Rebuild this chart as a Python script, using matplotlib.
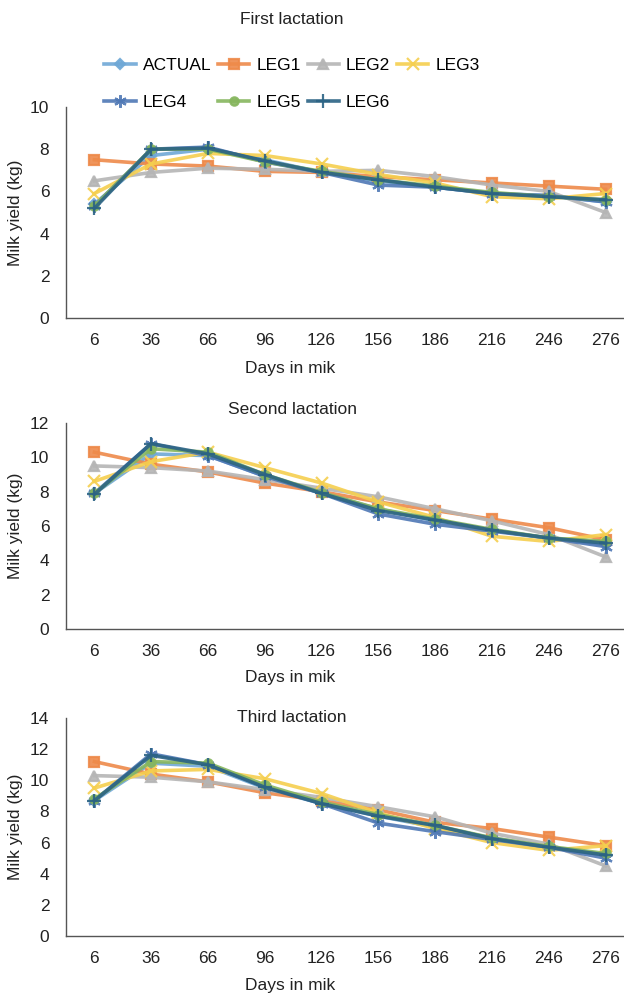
import matplotlib
matplotlib.use("Agg")
import matplotlib.pyplot as plt

plt.rcParams["font.family"] = ["Liberation Sans", "DejaVu Sans"]

days = ["6", "36", "66", "96", "126", "156", "186", "216", "246", "276"]
series_names = ["ACTUAL", "LEG1", "LEG2", "LEG3", "LEG4", "LEG5", "LEG6"]

# first lactation
first_actual = [5.4, 7.7, 8.0, 7.5, 6.9, 6.5, 6.2, 5.9, 5.8, 5.5]
first_leg1 = [7.5, 7.3, 7.2, 6.95, 6.9, 6.7, 6.55, 6.4, 6.25, 6.1]
first_leg2 = [6.5, 6.9, 7.1, 7.05, 6.95, 7.0, 6.7, 6.3, 6.0, 5.0]
first_leg3 = [5.9, 7.3, 7.8, 7.7, 7.3, 6.8, 6.4, 5.75, 5.65, 5.9]
first_leg4 = [5.3, 8.0, 8.1, 7.4, 6.9, 6.3, 6.2, 5.9, 5.8, 5.5]
first_leg5 = [5.3, 8.0, 8.0, 7.4, 6.95, 6.55, 6.25, 5.95, 5.75, 5.6]
first_leg6 = [5.2, 8.0, 8.05, 7.45, 6.9, 6.55, 6.2, 5.9, 5.75, 5.6]

# second lactation
second_actual = [7.9, 10.2, 10.1, 8.9, 7.9, 7.0, 6.3, 5.75, 5.3, 4.9]
second_leg1 = [10.3, 9.6, 9.15, 8.5, 8.0, 7.4, 6.9, 6.4, 5.9, 5.2]
second_leg2 = [9.5, 9.4, 9.2, 8.7, 8.2, 7.7, 7.0, 6.3, 5.5, 4.2]
second_leg3 = [8.6, 9.75, 10.3, 9.4, 8.5, 7.4, 6.5, 5.4, 5.1, 5.5]
second_leg4 = [7.9, 10.8, 10.1, 8.9, 7.9, 6.7, 6.1, 5.7, 5.3, 4.8]
second_leg5 = [7.9, 10.5, 10.3, 9.0, 7.95, 7.0, 6.4, 5.8, 5.3, 5.1]
second_leg6 = [7.85, 10.8, 10.2, 9.0, 7.9, 6.9, 6.35, 5.75, 5.3, 5.0]

# third lactation
third_actual = [8.7, 11.1, 10.9, 9.5, 8.5, 7.7, 7.0, 6.3, 5.7, 5.2]
third_leg1 = [11.2, 10.4, 9.9, 9.2, 8.7, 8.1, 7.3, 6.9, 6.35, 5.8]
third_leg2 = [10.3, 10.2, 9.9, 9.4, 8.9, 8.3, 7.65, 6.6, 5.9, 4.5]
third_leg3 = [9.5, 10.6, 10.7, 10.1, 9.15, 7.9, 6.9, 6.0, 5.5, 5.8]
third_leg4 = [8.7, 11.7, 11.0, 9.6, 8.5, 7.25, 6.7, 6.2, 5.7, 5.0]
third_leg5 = [8.8, 11.2, 11.1, 9.7, 8.6, 7.8, 7.1, 6.3, 5.75, 5.3]
third_leg6 = [8.7, 11.6, 11.0, 9.55, 8.5, 7.7, 7.1, 6.25, 5.7, 5.2]

panels = [
    ("First lactation", 10,
     [first_actual, first_leg1, first_leg2, first_leg3, first_leg4, first_leg5, first_leg6]),
    ("Second lactation", 12,
     [second_actual, second_leg1, second_leg2, second_leg3, second_leg4, second_leg5, second_leg6]),
    ("Third lactation", 14,
     [third_actual, third_leg1, third_leg2, third_leg3, third_leg4, third_leg5, third_leg6]),
]

colors = ["#6fa8d6", "#ee8a4a", "#b5b5b5", "#f5cf4f", "#4f78b5", "#86b65e", "#2b6384"]
markers = ["D", "s", "^", "x", (6, 2, 0), "o", "+"]
msizes = [5, 7, 7, 8, 9, 6, 10]

W, H = 624, 997
fig = plt.figure(figsize=(W / 100, H / 100), dpi=100)

# axes boxes in pixels: (top, bottom)
boxes = [(107, 318), (423, 629), (718, 936)]
title_y = [20, 409, 718]
xlabel_y = [368, 677, 985]
ax_left, ax_right = 66, 634

handles = None
for (title, ymax, data), (top, bot), ty, xy in zip(panels, boxes, title_y, xlabel_y):
    ax = fig.add_axes([ax_left / W, 1 - bot / H, (ax_right - ax_left) / W, (bot - top) / H])
    x = list(range(len(days)))
    lines = []
    for vals, c, m, ms in zip(data, colors, markers, msizes):
        ln, = ax.plot(x, vals, color=c, marker=m, markersize=ms, linewidth=2.6,
                      markeredgewidth=1.6, markeredgecolor=c, alpha=0.9)
        lines.append(ln)
    handles = handles or lines
    ax.set_xlim(-0.5, len(days) - 0.5)
    ax.set_ylim(0, ymax)
    ax.set_yticks(range(0, ymax + 1, 2))
    ax.set_xticks(x)
    ax.set_xticklabels(days)
    ax.tick_params(length=0, labelsize=12.5, colors="#222222", pad=11)
    ax.tick_params(axis="y", pad=12)
    for s in ["top", "right"]:
        ax.spines[s].set_visible(False)
    for s in ["left", "bottom"]:
        ax.spines[s].set_color("#555555")
        ax.spines[s].set_linewidth(1.0)
    ax.set_ylabel("Milk yield (kg)", fontsize=12.5, color="#222222", labelpad=5)
    fig.text(292 / W, 1 - ty / H, title, ha="center", va="center", fontsize=12.5, color="#222222")
    fig.text(290 / W, 1 - xy / H, "Days in mik", ha="center", va="center", fontsize=12.5, color="#222222")

order = [0, 4, 1, 5, 2, 6, 3]
fig.legend([handles[i] for i in order], [series_names[i] for i in order],
           loc="center", bbox_to_anchor=(292 / W, 1 - 84 / H), ncol=4, frameon=False,
           fontsize=12.5, handlelength=1.8, columnspacing=0.4, handletextpad=0.4,
           labelspacing=1.25)

fig.savefig("out.png", dpi=100)
